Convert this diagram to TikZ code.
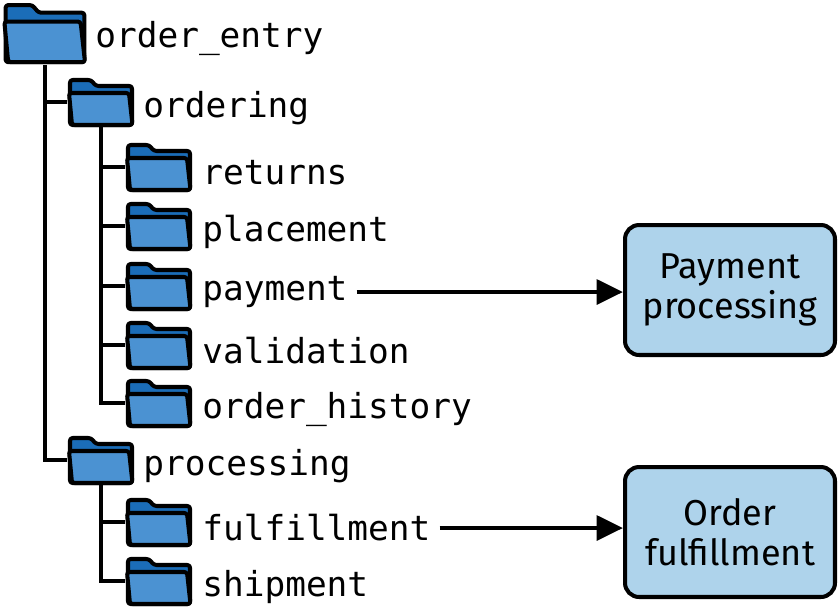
\documentclass[tikz,border=0pt]{standalone}
\usepackage{fontspec}
\setmainfont{Fira Sans}
\setmonofont{DejaVu Sans Mono}
\usetikzlibrary{positioning,arrows.meta}
\definecolor{folderdark}{HTML}{1B6DB8}
\definecolor{folderlight}{HTML}{4B92D2}
\definecolor{boxfill}{HTML}{AED3EB}
\tikzset{
    folder/.style = {
        shape=rectangle,
        minimum width=#1*1.36cm,
        minimum height=#1*1cm,
        inner sep=0pt
    },
    folder/.default=1,
    icon/.pic = {
        \begin{scope}[shift={(-34,-25)}, line width=2.3pt, line join=round, rounded corners=1.5pt]
            \filldraw[fill=folderdark] (3,48) -- (3,3) -- (24,3) -- (29,9) -- (65,9) -- (65,48) -- cycle;
            \filldraw[fill=folderlight] (2,16) -- (62,16) -- (65.5,48) -- (5,48) -- cycle;
        \end{scope}
    },
    label/.style = {
        anchor=west,
        inner sep=0pt,
        font=\ttfamily\fontsize{19.6}{20}\selectfont
    },
    process/.style = {
        draw,
        shape=rectangle,
        rounded corners=8pt,
        fill=boxfill,
        minimum width=4.2cm,
        minimum height=2.6cm,
        align=center,
        line width=2.3pt,
        font=\fontsize{20.5}{23}\selectfont
    },
    tree/.style = {
        line width=2.3pt
    },
    flow/.style = {
        -{Triangle[length=15pt,width=14pt]},
        line width=2.5pt
    }
}

\begin{document}
\begin{tikzpicture}[x=0.02cm, y=-0.02cm]
    \useasboundingbox (0,0) rectangle (839,610);

    \node[folder=1.27] (root) at (45,33) {};
    \node[folder] (ordering) at (101,102) {};
    \node[folder] (returns) at (159,167) {};
    \node[folder] (placement) at (159,226) {};
    \node[folder] (payment) at (159,286) {};
    \node[folder] (validation) at (159,345) {};
    \node[folder] (history) at (159,403) {};
    \node[folder] (processing) at (101,460) {};
    \node[folder] (fulfillment) at (159,522) {};
    \node[folder] (shipment) at (159,581) {};

    \node[label] (root-l) at (95,38) {order\_entry};
    \node[label] at (143,108) {ordering};
    \node[label] at (202,173) {returns};
    \node[label] at (202,232) {placement};
    \node[label] (payment-l) at (202,292) {payment};
    \node[label] at (202,351) {validation};
    \node[label] at (202,409) {order\_history};
    \node[label] at (143,466) {processing};
    \node[label] (fulfillment-l) at (202,528) {fulfillment};
    \node[label] at (202,587) {shipment};

    \node[process] (payproc) at (730,290) {Payment\\processing};
    \node[process] (orderful) at (730,532) {Order\\fulfillment};

    % tree lines
    \draw[tree] (root.south) |- (ordering.west);
    \draw[tree] (root.south) |- (processing.west);
    \foreach \child in {returns,placement,payment,validation,history}
        \draw[tree] (ordering.south) |- (\child.west);
    \foreach \child in {fulfillment,shipment}
        \draw[tree] (processing.south) |- (\child.west);

    % folder icons
    \pic[scale=1.27] at (root.center) {icon};
    \foreach \f in {ordering,returns,placement,payment,validation,history,processing,fulfillment,shipment}
        \pic at (\f.center) {icon};

    \draw[flow] ([xshift=5pt]payment-l.east) -- (payproc.west |- payment-l.east);
    \draw[flow] ([xshift=5pt]fulfillment-l.east) -- (orderful.west |- fulfillment-l.east);
\end{tikzpicture}
\end{document}
